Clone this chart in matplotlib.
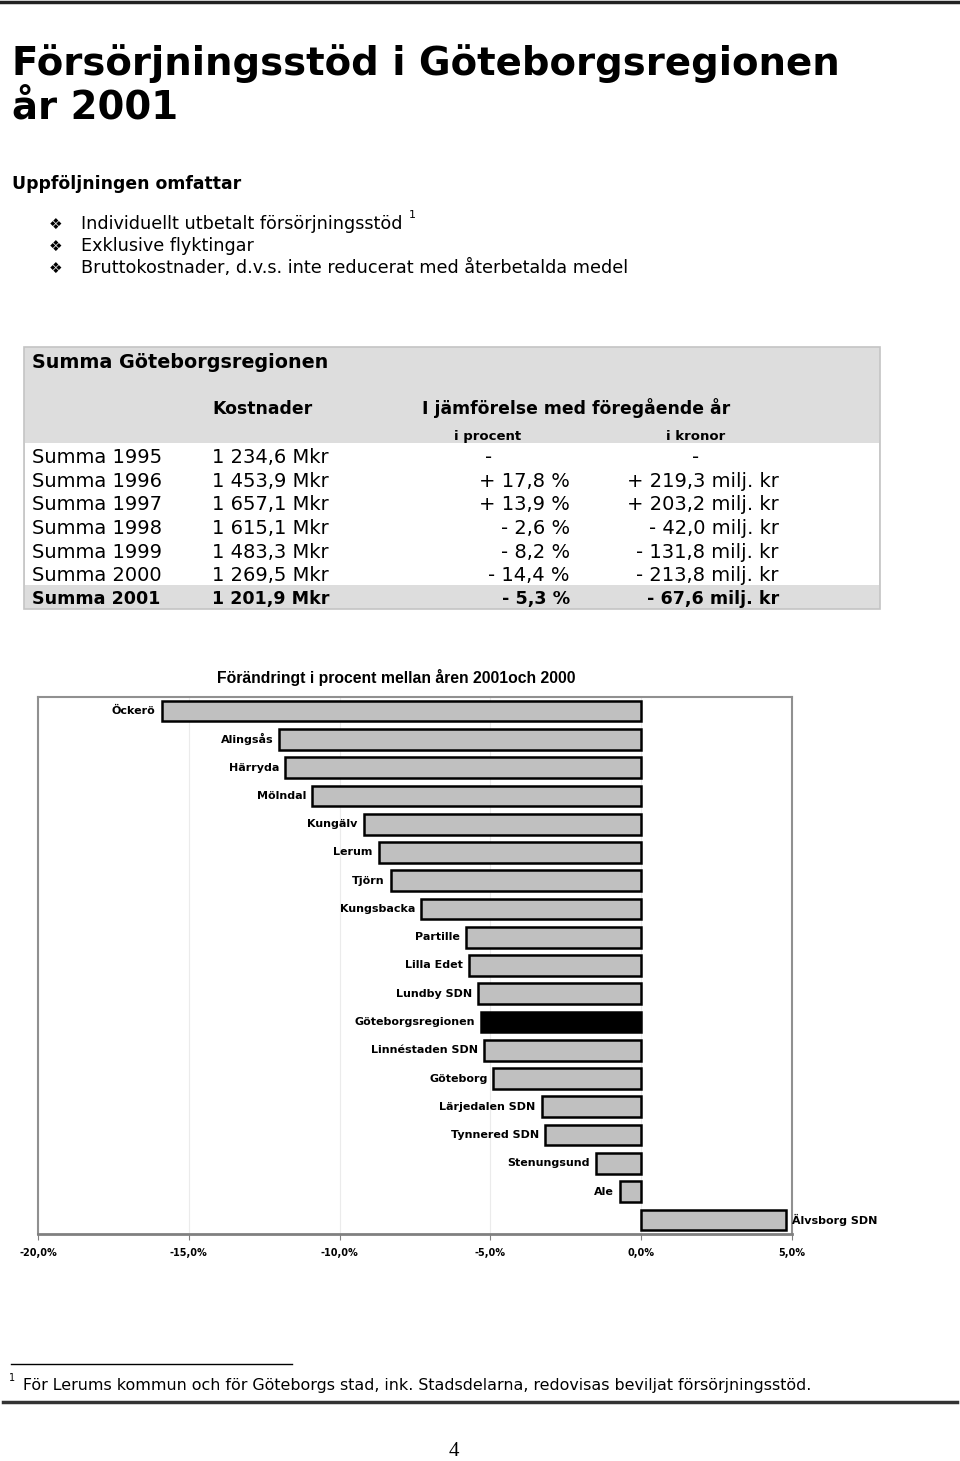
import matplotlib.pyplot as plt
from matplotlib.patches import Rectangle
from matplotlib.ticker import FuncFormatter

W, H = 960, 1461

# Tabell: Summa Göteborgsregionen
table_years = ['Summa 1995', 'Summa 1996', 'Summa 1997', 'Summa 1998',
               'Summa 1999', 'Summa 2000', 'Summa 2001']
table_cost = ['1 234,6 Mkr', '1 453,9 Mkr', '1 657,1 Mkr', '1 615,1 Mkr',
              '1 483,3 Mkr', '1 269,5 Mkr', '1 201,9 Mkr']
table_pct = ['-', '+ 17,8 %', '+ 13,9 %', '- 2,6 %', '- 8,2 %', '- 14,4 %', '- 5,3 %']
table_kr = ['-', '+ 219,3 milj. kr', '+ 203,2 milj. kr', '- 42,0 milj. kr',
            '- 131,8 milj. kr', '- 213,8 milj. kr', '- 67,6 milj. kr']

# Diagram: förändring i procent 2000 -> 2001
areas = ['Öckerö', 'Alingsås', 'Härryda', 'Mölndal', 'Kungälv', 'Lerum', 'Tjörn',
         'Kungsbacka', 'Partille', 'Lilla Edet', 'Lundby SDN', 'Göteborgsregionen',
         'Linnéstaden SDN', 'Göteborg', 'Lärjedalen SDN', 'Tynnered SDN',
         'Stenungsund', 'Ale', 'Älvsborg SDN']
change = [-15.9, -12.0, -11.8, -10.9, -9.2, -8.7, -8.3, -7.3, -5.8, -5.7,
          -5.4, -5.3, -5.2, -4.9, -3.3, -3.2, -1.5, -0.7, 4.8]
highlight = 'Göteborgsregionen'

bullets = ['Individuellt utbetalt försörjningsstöd', 'Exklusive flyktingar',
           'Bruttokostnader, d.v.s. inte reducerat med återbetalda medel']

plt.rcParams['font.family'] = ['DejaVu Sans']

fig = plt.figure(figsize=(W / 100, H / 100), dpi=100)

# sidan i pixelkoordinater
page = fig.add_axes([0, 0, 1, 1])
page.set_xlim(0, W)
page.set_ylim(H, 0)
page.axis('off')

page.plot([0, W], [2, 2], color='#222222', lw=2.5)
page.plot([3, 957], [1401.5, 1401.5], color='#333333', lw=2.5)
page.plot([11, 292], [1364, 1364], color='black', lw=1)

# rubrik
page.text(12, 75, 'Försörjningsstöd i Göteborgsregionen', fontsize=27.8,
          fontweight='bold', va='baseline')
page.text(12, 119, 'år 2001', fontsize=27.8, fontweight='bold', va='baseline')
page.text(12, 189, 'Uppföljningen omfattar', fontsize=12.4, fontweight='bold',
          va='baseline')
first = None
for k, b in enumerate(bullets):
    y = 229 + 22 * k
    page.text(56, y - 5, '\u2756', fontsize=11, ha='center', va='center')
    t = page.text(81, y, b, fontsize=12.7, va='baseline')
    if first is None:
        first = t
page.annotate('1', xy=(1, 1), xycoords=first, xytext=(6, 5),
              textcoords='offset pixels', fontsize=8, ha='left', va='top')

# tabell
page.add_patch(Rectangle((24, 347), 856, 262, facecolor='#dddddd',
                         edgecolor='#c4c4c4', lw=1.2))
page.add_patch(Rectangle((25, 443), 854, 142, facecolor='white', edgecolor='none'))
page.text(32, 368, 'Summa Göteborgsregionen', fontsize=13.8, fontweight='bold',
          va='baseline')
page.text(212, 414, 'Kostnader', fontsize=12.4, fontweight='bold', va='baseline')
page.text(422, 414, 'I jämförelse med föregående år', fontsize=12.4,
          fontweight='bold', va='baseline')
page.text(488, 440, 'i procent', fontsize=9.5, fontweight='bold', ha='center',
          va='baseline')
page.text(696, 440, 'i kronor', fontsize=9.5, fontweight='bold', ha='center',
          va='baseline')
row_y = [463, 487, 510, 534, 558, 581, 604]
for k in range(len(table_years)):
    last = k == len(table_years) - 1
    fw = 'bold' if last else 'normal'
    fs = 12.6 if last else 14
    y = row_y[k]
    page.text(32, y, table_years[k], fontsize=fs, fontweight=fw, va='baseline')
    page.text(212, y, table_cost[k], fontsize=fs, fontweight=fw, va='baseline')
    if table_pct[k] == '-':
        page.text(489, y, table_pct[k], fontsize=fs, ha='center', va='baseline')
        page.text(696, y, table_kr[k], fontsize=fs, ha='center', va='baseline')
    else:
        page.text(570, y, table_pct[k], fontsize=fs, fontweight=fw, ha='right',
                  va='baseline')
        page.text(779, y, table_kr[k], fontsize=fs, fontweight=fw, ha='right',
                  va='baseline')

# diagram
page.text(396, 677, 'Förändringt i procent mellan åren 2001och 2000',
          fontsize=11.3, fontweight='bold', ha='center', va='center',
          family='Liberation Sans')

ax = fig.add_axes([38 / W, (H - 1234) / H, (792 - 38) / W, (1234 - 697) / H])
pos = list(range(len(areas)))
colors = ['black' if a == highlight else '#c0c0c0' for a in areas]
ax.barh(pos, change, height=0.73, color=colors, edgecolor='black', linewidth=1.8,
        zorder=3)
for i, (a, v) in enumerate(zip(areas, change)):
    if v < 0:
        ax.annotate(a, (v, i), xytext=(-6, 0), textcoords='offset pixels',
                    ha='right', va='center', fontsize=8, fontweight='bold')
    else:
        ax.annotate(a, (v, i), xytext=(6, 0), textcoords='offset pixels',
                    ha='left', va='center', fontsize=8, fontweight='bold')

ax.set_xlim(-20, 5)
ax.set_ylim(len(areas) - 0.5, -0.5)
ax.set_xticks([-20, -15, -10, -5, 0, 5])
ax.xaxis.set_major_formatter(FuncFormatter(lambda x, p: f'{x:.1f}%'.replace('.', ',')))
for lab in ax.get_xticklabels():
    lab.set_fontweight('bold')
ax.tick_params(axis='x', labelsize=7, length=4, color='#808080', pad=6)
ax.set_yticks([])
ax.grid(axis='x', color='#ebebeb', lw=0.8, zorder=0)
for s in ax.spines.values():
    s.set_color('#909090')
    s.set_linewidth(1.5)
ax.spines['bottom'].set_color('#808080')
ax.spines['bottom'].set_linewidth(2)

# fotnot
page.text(9, 1381, '1', fontsize=7, va='baseline')
page.text(23, 1390, 'För Lerums kommun och för Göteborgs stad, ink. Stadsdelarna, '
          'redovisas beviljat försörjningsstöd.', fontsize=11.4, va='baseline')
page.text(454, 1452, '4', fontsize=15, ha='center', va='center',
          family='Liberation Serif')

fig.savefig('out.png', dpi=100)
